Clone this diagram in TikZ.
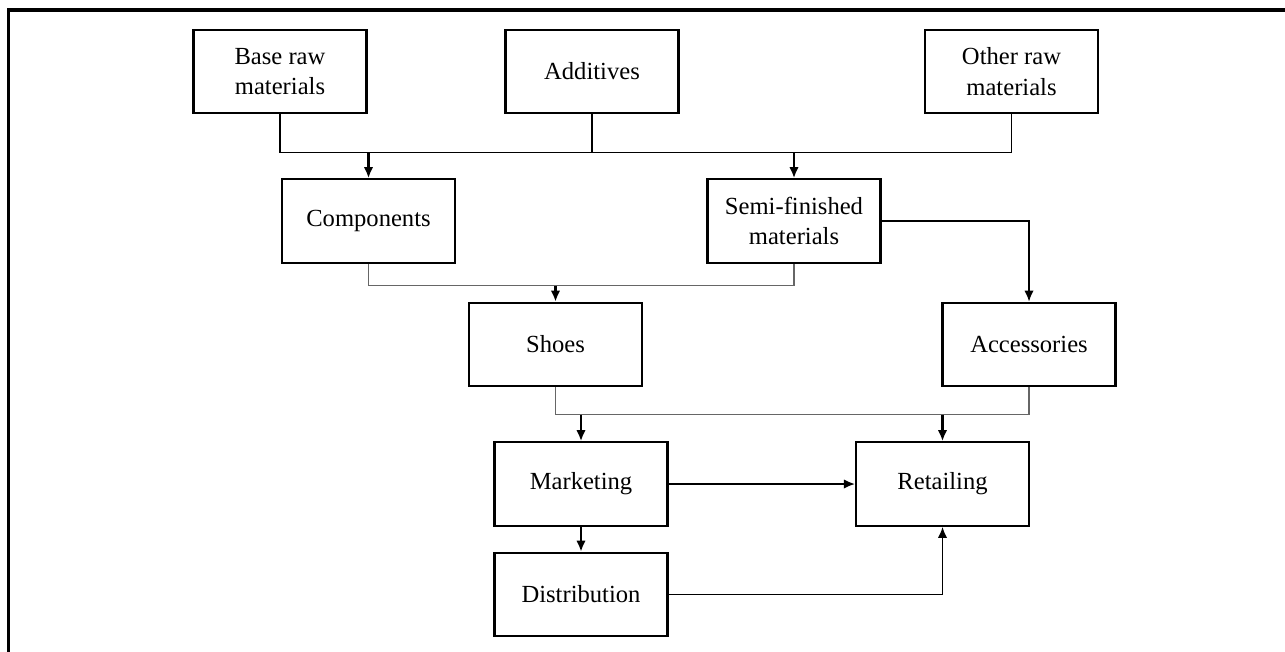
\documentclass[tikz,border=0pt]{standalone}
\usepackage{fontspec}
\setmainfont{Liberation Serif}
\usetikzlibrary{arrows.meta, positioning, calc}

\begin{document}
\begin{tikzpicture}[
  font=\fontsize{14}{17.5}\selectfont,
  blocco/.style={draw=black, line width=1.2pt, fill=white, align=center,
                 inner sep=2pt, minimum width=3.46cm, minimum height=1.67cm},
  collegamento/.style={draw=black, line width=1.1pt},
  sottile/.style={draw=black!60, line width=0.7pt},
  freccia/.style={draw=black, line width=1.1pt, -{Latex[length=2.2mm, width=1.9mm]}},
  freccina/.style={freccia, line width=1.5pt}
]

% area della pagina, fissata esplicitamente
\useasboundingbox (0,0) rectangle (25.70,-13.02);

% ---- blocchi: materie prime -----------------------------------------
\node[blocco] (base)      at (5.60,-1.43)  {Base raw\\materials};
\node[blocco] (additives) at (11.84,-1.43) {Additives};
\node[blocco] (otherraw)  at (20.23,-1.43) {Other raw\\materials};

% ---- blocchi: lavorazioni -------------------------------------------
\node[blocco] (components) at (7.37,-4.42)  {Components};
\node[blocco] (semifin)    at (15.88,-4.42) {Semi-finished\\materials};

\node[blocco] (shoes)       at (11.11,-6.89) {Shoes};
\node[blocco] (accessories) at (20.58,-6.89) {Accessories};

% ---- blocchi: vendita -----------------------------------------------
\node[blocco] (marketing)    at (11.62,-9.68)  {Marketing};
\node[blocco] (retailing)    at (18.85,-9.68)  {Retailing};
\node[blocco] (distribution) at (11.62,-11.89) {Distribution};

% ---- collegamenti ---------------------------------------------------
% linea di raccolta delle materie prime
\coordinate (busraw) at (0,-3.05);
\draw[collegamento] (base.south) -- (base.south |- busraw)
                    -- (otherraw.south |- busraw) -- (otherraw.south);
\draw[collegamento] (additives.south) -- (additives.south |- busraw);
\draw[freccina] (components.north |- busraw) -- (components.north);
\draw[freccina] (semifin.north |- busraw) -- (semifin.north);

% componenti e semilavorati -> scarpe
\coordinate (busshoes) at (0,-5.71);
\draw[sottile] (components.south) -- (components.south |- busshoes)
               -- (semifin.south |- busshoes) -- (semifin.south);
\draw[freccina] (shoes.north |- busshoes) -- (shoes.north);

% semilavorati -> accessori
\draw[freccia] (semifin.east) -| (accessories.north);

% scarpe e accessori -> marketing, retailing
\coordinate (bussales) at (0,-8.29);
\draw[sottile] (shoes.south) -- (shoes.south |- bussales)
               -- (accessories.south |- bussales) -- (accessories.south);
\draw[freccina] (marketing.north |- bussales) -- (marketing.north);
\draw[freccina] (retailing.north |- bussales) -- (retailing.north);

\draw[freccia] (marketing.east) -- (retailing.west);
\draw[freccina] (marketing.south) -- (distribution.north);
\draw[freccia] (distribution.east) -| (retailing.south);

% ---- cornice (solo lati sinistro e superiore) -----------------------
\draw[draw=black, line width=1.8pt] (0.17,-13.10) -- (0.17,-0.20) -- (25.80,-0.20);

\end{tikzpicture}
\end{document}
